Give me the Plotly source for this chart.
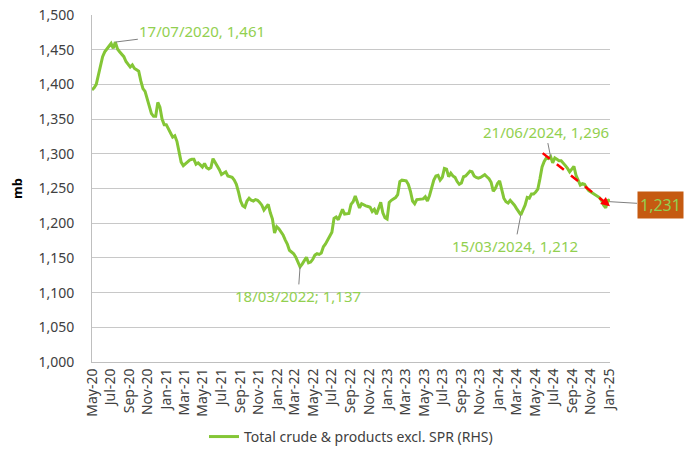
import pandas as pd
import plotly.graph_objects as go

start_date = "2020-05-01"
n_weeks = 245
stocks_mb = [
    1392, 1395, 1400, 1415, 1430, 1440, 1447, 1452, 1455, 1459,
    1452, 1461, 1451, 1447, 1444, 1440, 1433, 1428, 1425, 1428,
    1423, 1421, 1419, 1405, 1394, 1390, 1380, 1368, 1358, 1354,
    1354, 1374, 1367, 1350, 1342, 1342, 1335, 1330, 1324, 1326,
    1318, 1300, 1288, 1283, 1286, 1289, 1291, 1292, 1292, 1285,
    1287, 1284, 1281, 1286, 1280, 1278, 1280, 1293, 1288, 1283,
    1277, 1270, 1272, 1274, 1268, 1267, 1266, 1262, 1256, 1245,
    1232, 1225, 1223, 1232, 1236, 1233, 1232, 1234, 1233, 1230,
    1226, 1219, 1223, 1227, 1215, 1206, 1186, 1195, 1192, 1188,
    1183, 1176, 1170, 1161, 1159, 1156, 1151, 1143, 1137, 1141,
    1146, 1151, 1143, 1144, 1148, 1154, 1156, 1155, 1157, 1166,
    1170, 1175, 1180, 1187, 1207, 1209, 1205, 1212, 1220, 1213,
    1214, 1214, 1227, 1231, 1239, 1231, 1222, 1228, 1226, 1225,
    1224, 1223, 1217, 1220, 1213, 1222, 1230, 1215, 1208, 1206,
    1230, 1233, 1235, 1237, 1241, 1260, 1262, 1261, 1261, 1256,
    1246, 1232, 1228, 1234, 1234, 1234, 1235, 1238, 1232, 1240,
    1252, 1262, 1268, 1269, 1262, 1266, 1279, 1278, 1267, 1272,
    1268, 1266, 1260, 1256, 1258, 1267, 1268, 1271, 1275, 1274,
    1268, 1266, 1265, 1266, 1268, 1270, 1267, 1264, 1259, 1246,
    1250, 1257, 1261, 1250, 1236, 1231, 1229, 1233, 1230, 1226,
    1221, 1216, 1212, 1219, 1226, 1237, 1236, 1242, 1242, 1245,
    1249, 1264, 1281, 1289, 1294, 1293, 1296, 1287, 1294, 1292,
    1290, 1290, 1287, 1283, 1279, 1274, 1278, 1282, 1269, 1261,
    1255, 1257, 1256, 1251, 1247, 1245, 1243, 1242, 1240, 1237,
    1233, 1226, 1222, 1234, 1231,
]
dates = pd.date_range(start_date, periods=n_weeks, freq="7D")

# labelled points: (date, value, text, ax, ay)
labels = [
    ("2020-07-17", 1461, "17/07/2020, 1,461", 87, -11),
    ("2022-03-18", 1137, "18/03/2022; 1,137", -2, 29),
    ("2024-06-21", 1296, "21/06/2024, 1,296", -5, -25),
    ("2024-03-15", 1212, "15/03/2024, 1,212", -6, 31),
]
last_label = ("2025-01-03", 1231, "1,231")
trend_start = ("2024-05-26", 1301)
trend_end = ("2025-01-03", 1224.5)
trend_tail = ("2024-12-13", 1232)

LINE = "#84C636"
TXT_GREEN = "#92D050"
FONT = "Noto Sans"

fig = go.Figure()
fig.add_trace(go.Scatter(
    x=dates, y=stocks_mb, mode="lines",
    line=dict(color=LINE, width=3),
    name="Total crude & products excl. SPR (RHS)",
))

annotations = []
for d, v, t, ax, ay in labels:
    annotations.append(dict(
        x=d, y=v, xref="x", yref="y", text=t, showarrow=True,
        arrowhead=0, arrowwidth=1, arrowcolor="#808080",
        ax=ax, ay=ay, font=dict(color=TXT_GREEN, size=15, family=FONT),
    ))
annotations.append(dict(
    x=last_label[0], y=last_label[1], xref="x", yref="y", text=last_label[2],
    showarrow=True, arrowhead=0, arrowwidth=1, arrowcolor="#808080",
    ax=50, ay=3, bgcolor="#C55A11", borderpad=2,
    font=dict(color=TXT_GREEN, size=16, family=FONT),
))

fig.add_shape(type="line", xref="x", yref="y",
              x0=trend_start[0], y0=trend_start[1],
              x1=trend_end[0], y1=trend_end[1],
              line=dict(color="#FF0000", width=2.5, dash="dash"))
annotations.append(dict(
    x=trend_end[0], y=trend_end[1], xref="x", yref="y",
    ax=trend_tail[0], ay=trend_tail[1], axref="x", ayref="y",
    text="", showarrow=True, arrowhead=2, arrowsize=0.9, arrowwidth=2,
    arrowcolor="#FF0000",
))

fig.update_layout(
    width=700, height=457,
    margin=dict(l=92, r=90, t=15, b=95, autoexpand=False),
    paper_bgcolor="white", plot_bgcolor="white",
    font=dict(family=FONT, color="#404040", size=13),
    annotations=annotations,
    showlegend=True,
    legend=dict(orientation="h", x=0.5, xanchor="center", y=-0.216,
                yanchor="middle", font=dict(size=14, color="#404040")),
)
fig.update_xaxes(
    type="date", range=["2020-05-01", "2025-01-03"],
    tick0="2020-05-01", dtick="M2", tickformat="%b-%y",
    tickangle=-90, showgrid=False, showline=True, linecolor="#BFBFBF",
    linewidth=1, ticks="", tickfont=dict(size=14, color="#404040"),
    automargin=False,
)
fig.update_yaxes(
    range=[1000, 1500], dtick=50, tickformat=",",
    showgrid=True, gridcolor="#C8C8C8", gridwidth=1,
    showline=True, linecolor="#BFBFBF", linewidth=1,
    ticks="", ticklabelstandoff=14, zeroline=False,
    tickfont=dict(size=14, color="#404040"), automargin=False,
    title=dict(text="<b>mb</b>", font=dict(size=13, color="#000000"), standoff=12),
)

fig.write_html("out.html")
